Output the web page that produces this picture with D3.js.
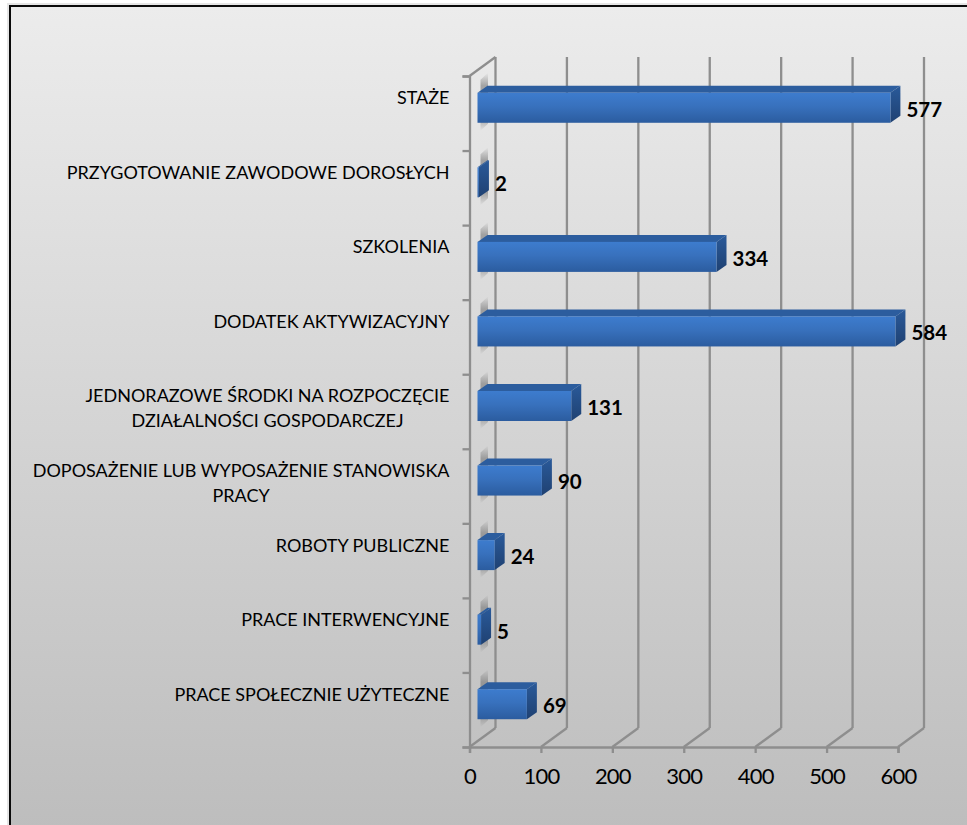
<!DOCTYPE html>
<html>
<head>
<meta charset="utf-8">
<script src="https://cdn.jsdelivr.net/npm/d3@7"></script>
<style>
    html, body { margin: 0; padding: 0; background: #fff; overflow: hidden; }
    svg { display: block; }
    text { font-family: Lato, "Open Sans", sans-serif; fill: #000; }
</style>
</head>
<body>
<div id="chart"></div>
<script>
// chart data, top to bottom
const categories = [
    ["STAŻE"],
    ["PRZYGOTOWANIE ZAWODOWE DOROSŁYCH"],
    ["SZKOLENIA"],
    ["DODATEK AKTYWIZACYJNY"],
    ["JEDNORAZOWE ŚRODKI NA ROZPOCZĘCIE", "DZIAŁALNOŚCI GOSPODARCZEJ"],
    ["DOPOSAŻENIE LUB WYPOSAŻENIE STANOWISKA", "PRACY"],
    ["ROBOTY PUBLICZNE"],
    ["PRACE INTERWENCYJNE"],
    ["PRACE SPOŁECZNIE UŻYTECZNE"]
];
const values = [577, 2, 334, 584, 131, 90, 24, 5, 69];
const xTicks = [0, 100, 200, 300, 400, 500, 600];

const width = 967, height = 825;

// front plane of the 3d box
const plot = {left: 469.5, right: 898, top: 76, bottom: 747};
const wall = {dx: 26, dy: -19};   // back wall offset
const barOffset = {dx: 8, dy: -5.5}; // bars stand a bit inside the box
const barDepth = {dx: 10, dy: -7};
const barHeight = 30;

const svg = d3.select("#chart").append("svg")
    .attr("width", width)
    .attr("height", height);

const defs = svg.append("defs");

function vGradient(id, stops) {
    let g = defs.append("linearGradient")
        .attr("id", id)
        .attr("x1", "0%").attr("x2", "0%")
        .attr("y1", "0%").attr("y2", "100%");
    stops.forEach(s => {
        g.append("stop")
            .attr("offset", s[0])
            .attr("stop-color", s[1])
            .attr("stop-opacity", s[2] === undefined ? 1 : s[2]);
    });
}

vGradient("bgGrad", [["0%", "#ececec"], ["100%", "#bdbdbd"]]);
vGradient("frontGrad", [["0%", "#3d7cce"], ["45%", "#3871bd"], ["100%", "#2b5c9f"]]);
vGradient("sideGrad", [["0%", "#2a5a9a"], ["100%", "#1f4172"]]);
vGradient("stubGrad", [["0%", "#777", 0], ["22%", "#777", 0.6], ["78%", "#777", 0.6], ["100%", "#777", 0]]);

// background and frame, runs off the right and bottom of the picture
svg.append("rect")
    .attr("x", 7).attr("y", 3)
    .attr("width", width).attr("height", height)
    .attr("fill", "#e6e6e6");
svg.append("rect")
    .attr("x", 10).attr("y", 6)
    .attr("width", width).attr("height", height)
    .attr("fill", "url(#bgGrad)")
    .attr("stroke", "#0a0a0a")
    .attr("stroke-width", 2);

// scales
const x = d3.scaleLinear()
    .domain([0, 600])
    .range([plot.left, plot.right]);

const y = d3.scaleBand()
    .domain(d3.range(categories.length))
    .range([plot.top, plot.bottom]);

const yEdges = d3.scaleLinear()
    .domain([0, categories.length])
    .range([plot.top, plot.bottom]);

const gridColor = "#8e8e8e";

// back wall gridlines and the floor diagonals
const grid = svg.append("g").attr("class", "grid");

grid.selectAll(".back")
    .data(xTicks)
    .enter().append("line")
    .attr("class", "back")
    .attr("x1", d => x(d) + wall.dx)
    .attr("x2", d => x(d) + wall.dx)
    .attr("y1", plot.top + wall.dy)
    .attr("y2", plot.bottom + wall.dy);

grid.selectAll(".floor")
    .data(xTicks)
    .enter().append("line")
    .attr("class", "floor")
    .attr("x1", d => x(d))
    .attr("x2", d => x(d) + wall.dx)
    .attr("y1", plot.bottom)
    .attr("y2", plot.bottom + wall.dy);

grid.append("line")
    .attr("x1", plot.left)
    .attr("x2", plot.left + wall.dx)
    .attr("y1", plot.top)
    .attr("y2", plot.top + wall.dy);

grid.selectAll("line")
    .attr("stroke", gridColor)
    .attr("stroke-width", 2.3);

// axes
const xAxis = d3.axisBottom(x)
    .tickValues(xTicks)
    .tickSize(6)
    .tickPadding(15);

const yAxis = d3.axisLeft(yEdges)
    .tickValues(d3.range(categories.length + 1))
    .tickFormat("")
    .tickSize(7);

const xAxisGroup = svg.append("g")
    .attr("class", "x-axis axis")
    .attr("transform", `translate(0,${plot.bottom})`)
    .call(xAxis);

xAxisGroup.selectAll("text")
    .style("font-size", "22px")
    .style("letter-spacing", "-0.8px")
    .style("font-family", "Lato, sans-serif")
    .attr("fill", "#000");

const yAxisGroup = svg.append("g")
    .attr("class", "y-axis axis")
    .attr("transform", `translate(${plot.left},0)`)
    .call(yAxis);

svg.selectAll(".axis path").attr("stroke", gridColor).attr("stroke-width", 2.3);
svg.selectAll(".axis line").attr("stroke", gridColor).attr("stroke-width", 2.3);

// bars
const scaleX = d => (x(d) - x(0)) * 1.002;
const barTop = i => y(i) + y.bandwidth() / 2 + barOffset.dy - barHeight / 2;
const barLeft = x(0) + barOffset.dx;

const bars = svg.selectAll(".bar")
    .data(values)
    .enter().append("g")
    .attr("class", "bar")
    .attr("transform", (d, i) => `translate(${barLeft},${barTop(i)})`);

// soft shadow stub behind each bar on the back wall
bars.append("path")
    .attr("d", `M3,${barHeight + 8} L3,-13 L10.5,-20 L10.5,${barHeight + 1} Z`)
    .attr("fill", "url(#stubGrad)");

bars.append("path")
    .attr("d", d => `M0,0 L${barDepth.dx},${barDepth.dy} L${scaleX(d) + barDepth.dx},${barDepth.dy} L${scaleX(d)},0 Z`)
    .attr("fill", "#2c5d9e");

bars.append("path")
    .attr("d", d => `M${scaleX(d)},0 L${scaleX(d) + barDepth.dx},${barDepth.dy} L${scaleX(d) + barDepth.dx},${barHeight + barDepth.dy} L${scaleX(d)},${barHeight} Z`)
    .attr("fill", "url(#sideGrad)");

bars.append("rect")
    .attr("width", d => scaleX(d))
    .attr("height", barHeight)
    .attr("fill", "url(#frontGrad)");

// value labels
bars.append("text")
    .attr("x", d => scaleX(d) + barDepth.dx + 6)
    .attr("y", barHeight / 2 + 1.5)
    .attr("dy", "0.36em")
    .style("font-size", "20.5px")
    .style("font-weight", 700)
    .text(d => d);

// category labels: lines are centred on each other, the block is flush right
const labelRight = 449.5;
const lineHeight = 25;

const labels = svg.selectAll(".cat-label")
    .data(categories)
    .enter().append("text")
    .attr("class", "cat-label")
    .attr("y", (d, i) => y(i) + y.bandwidth() / 2 - 15.5)
    .attr("dy", "0.36em")
    .attr("text-anchor", "middle")
    .style("font-size", "18px");

labels.selectAll("tspan")
    .data(d => d)
    .enter().append("tspan")
    .attr("dy", (d, i) => i === 0 ? null : lineHeight)
    .text(d => d);

labels.each(function() {
    let label = d3.select(this);
    let widest = 0;
    label.selectAll("tspan").each(function() {
        widest = Math.max(widest, this.getComputedTextLength());
    });
    label.selectAll("tspan").attr("x", labelRight - widest / 2);
});
</script>
</body>
</html>
